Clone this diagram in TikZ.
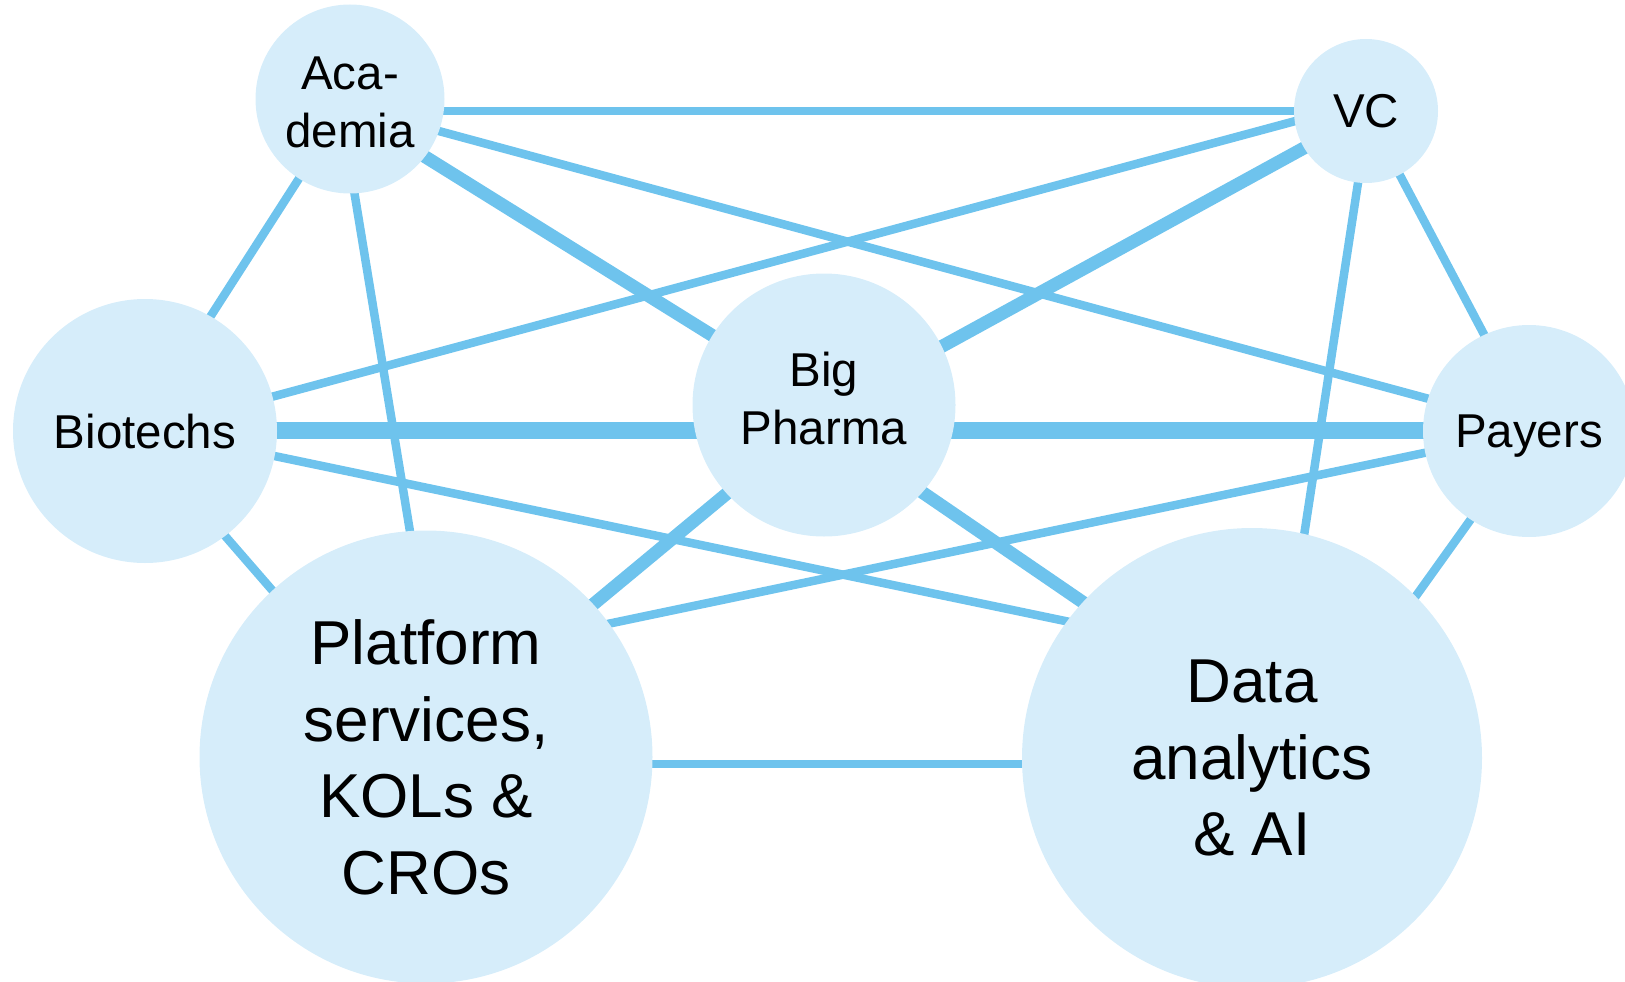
\documentclass[tikz,border=0pt]{standalone}
\usepackage{fontspec}
\setmainfont{Liberation Sans}
\usetikzlibrary{calc,backgrounds}
\definecolor{nodefill}{RGB}{214,237,250}
\definecolor{linkblue}{RGB}{110,195,237}
\tikzset{
  hub/.style={circle, fill=nodefill, inner sep=0pt, align=center, text depth=0pt},
  hubtext/.style={inner sep=0pt, align=center, text depth=0pt},
  smalltxt/.style={font=\fontsize{47.5}{58}\selectfont},
  bigtxt/.style={font=\fontsize{62}{76.5}\selectfont},
  thin link/.style={draw=linkblue, line width=8.5pt},
  thick link/.style={draw=linkblue, line width=13pt},
  heavy link/.style={draw=linkblue, line width=17pt}
}
\begin{document}
\begin{tikzpicture}[x=1pt,y=-1pt]
\useasboundingbox (0,0) rectangle (1625,982);
\clip (0,0) rectangle (1625,982);
\node[hub, minimum size=189pt] (aca) at (350,99) {};
\node[hubtext, smalltxt] (acatext) at ($(aca.center)+(0,3)$) {Aca-\\demia};
\node[hub, smalltxt, minimum size=144pt] (vc) at (1366,111) {VC};
\node[hub, smalltxt, minimum size=264pt] (bio) at (145,431) {Biotechs};
\node[hub, minimum size=263pt] (bp) at (824,405) {};
\node[hubtext, smalltxt] (bptext) at ($(bp.center)+(0,-7)$) {Big\\Pharma};
\node[hub, smalltxt, minimum size=212pt] (pay) at (1529,431) {Payers};
\node[hub, bigtxt, minimum size=453pt] (plat) at (426,757) {Platform\\services,\\KOLs \&\\CROs};
\node[hub, bigtxt, minimum size=460pt] (data) at (1252,758) {Data\\analytics\\\& AI};
\begin{scope}[on background layer]
\draw[thin link] ($(aca.center)+(0,12)$) -- (vc.center);
\draw[thin link] ($(aca.center)+(0,8)$) -- ($(pay.center)+(0,-5)$);
\draw[thick link] ($(aca.center)+(0,11)$) -- (bp.center);
\draw[thin link] (aca.center) -- ($(bio.center)+(-8,0)$);
\draw[thin link] ($(aca.center)+(-11,0)$) -- ($(plat.center)+(21,0)$);
\draw[thin link] ($(vc.center)+(0,-9)$) -- (bio.center);
\draw[thick link] ($(vc.center)+(0,3)$) -- ($(bp.center)+(0,6)$);
\draw[thin link] ($(vc.center)+(3,0)$) -- ($(data.center)+(18,0)$);
\draw[thin link] (vc.center) -- ($(pay.center)+(6,0)$);
\draw[heavy link] ($(bio.center)+(0,-1)$) -- ($(bp.center)+(0,25)$);
\draw[heavy link] ($(bp.center)+(0,25)$) -- ($(pay.center)+(0,-1)$);
\draw[thin link] ($(bio.center)+(0,-2)$) -- ($(data.center)+(0,-98)$);
\draw[thin link] ($(bio.center)+(-11,0)$) -- ($(plat.center)+(-9,0)$);
\draw[thick link] ($(bp.center)+(0,8)$) -- ($(plat.center)+(0,-14)$);
\draw[thick link] ($(bp.center)+(0,20)$) -- ($(data.center)+(0,-40)$);
\draw[thin link] (pay.center) -- ($(plat.center)+(0,-95)$);
\draw[thin link] ($(pay.center)+(5,0)$) -- ($(data.center)+(48,0)$);
\draw[thin link] ($(plat.center)+(0,7)$) -- ($(data.center)+(0,6)$);
\end{scope}
\end{tikzpicture}
\end{document}
